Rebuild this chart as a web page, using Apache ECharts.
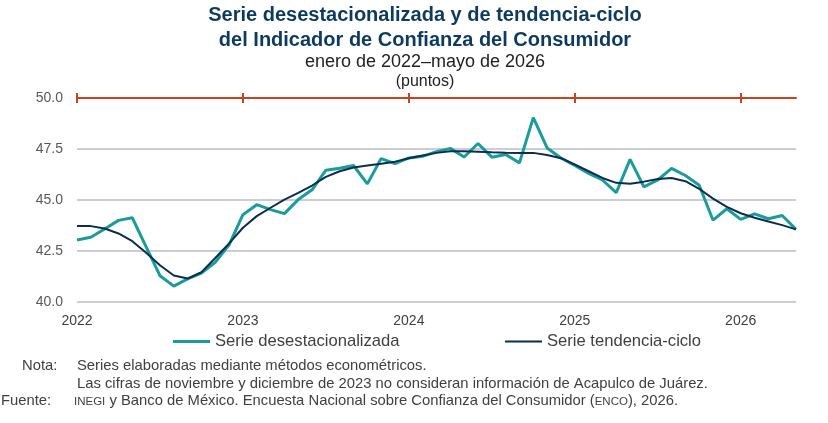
<!DOCTYPE html>
<html>
<head>
<meta charset="utf-8">
<script src="https://cdn.jsdelivr.net/npm/echarts@6/dist/echarts.min.js"></script>
<style>
  html, body { margin: 0; padding: 0; background: #fff; }
  #main { width: 828px; height: 423px; }
</style>
</head>
<body>
<div id="main"></div>
<script>
// meses enero 2022 - mayo 2026
var meses = [];
for (var a = 2022; a <= 2026; a++) {
  for (var m = 1; m <= 12; m++) {
    if (a === 2026 && m > 5) break;
    meses.push(a + '-' + (m < 10 ? '0' + m : m));
  }
}

// Serie desestacionalizada
var desest = [
  43.04, 43.17, 43.58, 44.00, 44.13, 42.70, 41.29, 40.78, 41.13, 41.42, 41.95, 42.80,
  44.28, 44.77, 44.53, 44.33, 45.02, 45.50, 46.46, 46.56, 46.69, 45.79, 47.03, 46.78,
  47.06, 47.14, 47.37, 47.53, 47.11, 47.77, 47.10, 47.23, 46.82, 49.04, 47.55, 47.06,
  46.69, 46.30, 45.98, 45.36, 46.99, 45.64, 45.98, 46.55, 46.20, 45.72, 44.01, 44.57,
  44.05, 44.32, 44.08, 44.24, 43.56
];

// Serie tendencia-ciclo
var tendencia = [
  43.72, 43.72, 43.60, 43.36, 42.98, 42.41, 41.80, 41.30, 41.15, 41.46, 42.16, 42.87,
  43.64, 44.21, 44.62, 45.02, 45.35, 45.71, 46.13, 46.41, 46.59, 46.69, 46.78, 46.88,
  47.05, 47.18, 47.31, 47.39, 47.39, 47.37, 47.34, 47.32, 47.31, 47.31, 47.21, 47.05,
  46.74, 46.41, 46.08, 45.84, 45.80, 45.90, 46.03, 46.08, 45.92, 45.55, 45.07, 44.66,
  44.35, 44.13, 43.95, 43.77, 43.56
];

var yMin = 40, yMax = 50, yPaso = 2.5;

var FONT = '"Liberation Sans", Arial, sans-serif';
var cTeal = '#1a9c9c';
var cNavy = '#0b2d50';
var cRojo = '#c8421f';
var cTitulo = '#0d3a5f';
var cTexto = '#404040';
var fNota = '14.8px ' + FONT;

function esAnio(i) { return i % 12 === 0; }

var myChart = echarts.init(document.getElementById('main'));

var option = {
  animation: false,
  textStyle: { fontFamily: FONT },
  grid: { left: 77, right: 32, top: 98, bottom: 121, containLabel: false },
  legend: [
    {
      data: ['Serie desestacionalizada'],
      left: 173, top: 333, padding: 0,
      icon: 'rect', itemWidth: 37, itemHeight: 3, itemGap: 5,
      textStyle: { fontFamily: FONT, fontSize: 16.6, color: cTexto }
    },
    {
      data: ['Serie tendencia-ciclo'],
      left: 505, top: 333, padding: 0,
      icon: 'rect', itemWidth: 37, itemHeight: 2, itemGap: 5,
      textStyle: { fontFamily: FONT, fontSize: 16.6, color: cTexto }
    }
  ],
  xAxis: [
    {
      type: 'category',
      data: meses,
      boundaryGap: false,
      axisLine: { show: false },
      axisTick: { show: false },
      axisLabel: {
        interval: function (i) { return esAnio(i); },
        formatter: function (v) { return v.slice(0, 4); },
        fontFamily: FONT, fontSize: 14, color: cTexto, margin: 12
      },
      splitLine: { show: false }
    },
    {
      type: 'category', data: meses, boundaryGap: false, position: 'top',
      axisLine: { show: true, lineStyle: { color: cRojo, width: 2 } },
      axisTick: { show: true, inside: false, length: 5, interval: function (i) { return esAnio(i); }, lineStyle: { color: cRojo, width: 2 } },
      axisLabel: { show: false }, splitLine: { show: false }
    },
    {
      type: 'category', data: meses, boundaryGap: false, position: 'top',
      axisLine: { show: false },
      axisTick: { show: true, inside: true, length: 5, interval: function (i) { return esAnio(i); }, lineStyle: { color: cRojo, width: 2 } },
      axisLabel: { show: false }, splitLine: { show: false }
    }
  ],
  yAxis: {
    type: 'value',
    min: yMin, max: yMax, interval: yPaso,
    axisLine: { show: false },
    axisTick: { show: false },
    axisLabel: {
      formatter: function (v) { return v.toFixed(1); },
      fontFamily: FONT, fontSize: 14, color: '#595959', margin: 14
    },
    splitLine: { show: true, lineStyle: { color: '#b8bdc2', width: 1.5 } }
  },
  series: [
    {
      name: 'Serie desestacionalizada',
      type: 'line',
      data: desest,
      showSymbol: false,
      itemStyle: { color: cTeal },
      lineStyle: { color: cTeal, width: 3 }
    },
    {
      name: 'Serie tendencia-ciclo',
      type: 'line',
      data: tendencia,
      showSymbol: false,
      itemStyle: { color: cNavy },
      lineStyle: { color: cNavy, width: 2 }
    }
  ],
  graphic: [
    { type: 'text', x: 425, y: 15, style: { text: 'Serie desestacionalizada y de tendencia-ciclo', fill: cTitulo, font: 'bold 20px ' + FONT, textAlign: 'center', textVerticalAlign: 'middle' } },
    { type: 'text', x: 425, y: 40, style: { text: 'del Indicador de Confianza del Consumidor', fill: cTitulo, font: 'bold 20px ' + FONT, textAlign: 'center', textVerticalAlign: 'middle' } },
    { type: 'text', x: 425, y: 62, style: { text: 'enero de 2022\u2013mayo de 2026', fill: '#222', font: '18px ' + FONT, textAlign: 'center', textVerticalAlign: 'middle' } },
    { type: 'text', x: 425, y: 82, style: { text: '(puntos)', fill: '#222', font: '16px ' + FONT, textAlign: 'center', textVerticalAlign: 'middle' } },

    { type: 'text', x: 22, y: 366, style: { text: 'Nota:', fill: cTexto, font: fNota, textVerticalAlign: 'middle' } },
    { type: 'text', x: 77, y: 366, style: { text: 'Series elaboradas mediante métodos econométricos.', fill: cTexto, font: fNota, textVerticalAlign: 'middle' } },
    { type: 'text', x: 77, y: 383.5, style: { text: 'Las cifras de noviembre y diciembre de 2023 no consideran información de Acapulco de Juárez.', fill: cTexto, font: fNota, textVerticalAlign: 'middle' } },
    { type: 'text', x: 1, y: 401, style: { text: 'Fuente:', fill: cTexto, font: fNota, textVerticalAlign: 'middle' } },
    {
      type: 'text', x: 74, y: 401,
      style: {
        text: '{sc|INEGI} y Banco de México. Encuesta Nacional sobre Confianza del Consumidor ({sc|ENCO}), 2026.',
        fill: cTexto, font: fNota, textVerticalAlign: 'middle',
        rich: { sc: { fontSize: 11.5, fontFamily: FONT, fill: cTexto, verticalAlign: 'middle', padding: [2, 0, 0, 0] } }
      }
    }
  ]
};

myChart.setOption(option);
</script>
</body>
</html>
